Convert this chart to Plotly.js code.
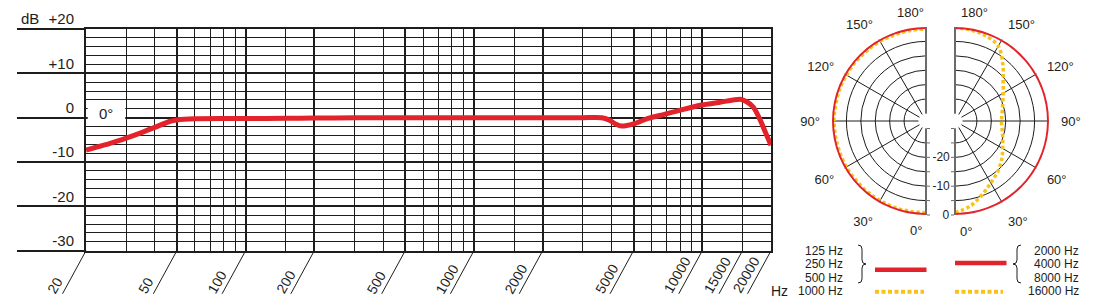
<!DOCTYPE html>
<html>
<head>
<meta charset="utf-8">
<script src="https://cdn.plot.ly/plotly-3.0.1.min.js"></script>
<style>
html,body{margin:0;padding:0;background:#fff;}
#chart{width:1105px;height:306px;}
</style>
</head>
<body>
<div id="chart"></div>
<script>
// ---------- DATA ----------
// Frequency response at 0°
const freqHz = [20, 25.5, 30, 35.7, 40, 46.7, 50, 60, 80, 100, 150, 200, 300, 500, 1000, 2000, 3000, 3630, 3900, 4170, 4440, 5000, 5800, 6820, 7890, 9780, 11970, 14690, 15660, 16760, 17930, 18870, 20000];
const responseDb = [-7.3, -5.8, -4.6, -3.2, -2.2, -0.8, -0.5, -0.25, -0.2, -0.2, -0.15, -0.1, 0, 0, 0, 0, 0, 0, -0.5, -1.4, -1.9, -1.4, -0.15, 0.75, 1.6, 2.8, 3.5, 4.15, 3.6, 2.35, -0.5, -3.2, -6.2];

// Axis ticks
const freqLabelVals = [20, 50, 100, 200, 500, 1000, 2000, 5000, 10000, 15000, 20000];
const freqLabelText = ['20', '50', '100', '200', '500', '1000', '2000', '5000', '10000', '15000', '20000'];
const freqMajorGrid = [20, 50, 100, 200, 500, 1000, 2000, 5000, 10000, 20000];
const freqMinorGrid = [30, 40, 60, 70, 80, 90, 150, 300, 400, 600, 700, 800, 900, 1500, 3000, 4000, 6000, 7000, 8000, 9000, 15000];
const dbTickVals = [-30, -20, -10, 0, 10, 20];
const dbTickText = ['-30', '-20', '-10', '0', '+10', '+20'];

// Polar patterns
const polarTheta = [0, 10, 20, 30, 40, 50, 60, 70, 80, 90, 100, 110, 120, 130, 140, 150, 160, 170, 180];
const lowMidDb = [0, 0, 0, 0, 0, 0, 0, 0, 0, 0, 0, 0, 0, 0, 0, 0, 0, 0, 0];           // 125/250/500 Hz
const f1000Db = [-0.8, -0.8, -0.7, -0.8, -0.7, -0.8, -0.7, -0.8, -0.8, -0.7, -0.8, -0.7, -0.8, -0.7, -0.8, -0.7, -0.8, -0.7, -0.7];
const highMidDb = [0, 0, 0, 0, 0, 0, 0, 0, 0, 0, 0, 0, 0, 0, 0, 0, 0, 0, 0];          // 2000/4000/8000 Hz
const f16000Db = [-0.8, -2.6, -5.3, -7.8, -9.6, -11.5, -13.5, -15.0, -16.0, -16.5, -16.0, -15.0, -13.3, -10.8, -6.8, -2.6, -1.2, -0.6, -0.3];
const polarRadialVals = [-30, -25, -20, -15, -10, -5, 0];
const polarRadialText = ['', '', '-20', '', '-10', '', '\u2007\u20080'];
const polarAngleVals = [0, 30, 60, 90, 120, 150, 180];
const polarAngleText = ['', '30°', '60°', '90°', '120°', '150°', ''];
const legendLeftText = ['125 Hz', '250 Hz', '500 Hz', '1000 Hz'];
const legendRightText = ['2000 Hz', '4000 Hz', '8000 Hz', '16000 Hz'];

// ---------- LAYOUT HELPERS ----------
const W = 1105, H = 306;
const px = x => x / W;
const py = y => 1 - y / H;
const RED = '#e3232b', YEL = '#f6c21c', INK = '#1d1d1b', GREY = '#6b6b6b';
const FONT = 'Liberation Sans, Arial, Helvetica, sans-serif';

const plotBox = {l: 86, r: 771, t: 29, b: 250.7};
const PL = {cx: 926, cy: 121, r: 94};
const PR = {cx: 955, cy: 121, r: 94};
const HOLE = 0.08;

const traces = [
  {type: 'scatter', x: freqHz, y: responseDb, xaxis: 'x', yaxis: 'y', mode: 'lines',
   line: {color: RED, width: 5, shape: 'spline', smoothing: 0.6}, hoverinfo: 'skip', cliponaxis: false},
  {type: 'scatter', x: [], y: [], xaxis: 'x2', yaxis: 'y', hoverinfo: 'skip', showlegend: false},
  {type: 'scatterpolar', subplot: 'polar', theta: polarTheta, r: f1000Db, mode: 'lines',
   line: {color: YEL, width: 3.5, dash: '3.5px,2.5px', shape: 'spline'}, cliponaxis: false, hoverinfo: 'skip'},
  {type: 'scatterpolar', subplot: 'polar', theta: polarTheta, r: lowMidDb, mode: 'lines',
   line: {color: RED, width: 4, shape: 'spline'}, cliponaxis: false, hoverinfo: 'skip'},
  {type: 'scatterpolar', subplot: 'polar2', theta: polarTheta, r: f16000Db, mode: 'lines',
   line: {color: YEL, width: 3.5, dash: '3.5px,2.5px', shape: 'spline'}, cliponaxis: false, hoverinfo: 'skip'},
  {type: 'scatterpolar', subplot: 'polar2', theta: polarTheta, r: highMidDb, mode: 'lines',
   line: {color: RED, width: 4, shape: 'spline'}, cliponaxis: false, hoverinfo: 'skip'}
];

function radialAxis(showLabels, side, tickangle) {
  return {
    range: [-30, 0], tickmode: 'array', tickvals: polarRadialVals, ticktext: polarRadialText,
    showticklabels: showLabels, angle: -90, side: side, tickangle: tickangle,
    showline: true, linecolor: GREY, linewidth: 2,
    gridcolor: INK, gridwidth: 1,
    ticks: 'outside', ticklen: 3, tickcolor: GREY, tickwidth: 1,
    tickfont: {size: 12, color: INK, family: FONT}
  };
}
function angularAxis(direction) {
  return {
    rotation: -90, direction: direction, tickmode: 'array', tickvals: polarAngleVals, ticktext: polarAngleText,
    showline: false, gridcolor: INK, gridwidth: 1, ticks: 'outside', ticklen: 9, tickcolor: 'rgba(0,0,0,0)',
    tickfont: {size: 13, color: INK, family: FONT}
  };
}

const shapes = [];
// white label box "0°"
shapes.push({type: 'rect', xref: 'x', yref: 'y', x0: 20.35, x1: 29.7, y0: -1.8, y1: 3.8,
  fillcolor: '#fff', line: {width: 0}, layer: 'above'});
// upper half of the vertical polar edge lines
[PL, PR].forEach(p => {
  shapes.push({type: 'line', xref: 'paper', yref: 'paper', x0: px(p.cx), x1: px(p.cx),
    y0: py(p.cy - p.r * HOLE), y1: py(p.cy - p.r), line: {color: GREY, width: 2}});
});
// legend swatches
shapes.push({type: 'line', xref: 'paper', yref: 'paper', x0: px(875), x1: px(926.5), y0: py(269.7), y1: py(269.7), line: {color: RED, width: 4.5}});
shapes.push({type: 'line', xref: 'paper', yref: 'paper', x0: px(875), x1: px(924), y0: py(291.7), y1: py(291.7), line: {color: YEL, width: 4, dash: '4px,2.5px'}});
shapes.push({type: 'line', xref: 'paper', yref: 'paper', x0: px(955), x1: px(1006.5), y0: py(263), y1: py(263), line: {color: RED, width: 4.5}});
shapes.push({type: 'line', xref: 'paper', yref: 'paper', x0: px(955), x1: px(1003), y0: py(291.7), y1: py(291.7), line: {color: YEL, width: 4, dash: '4px,2.5px'}});
// braces
const P = (x, y) => px(x) + ',' + py(y);
shapes.push({type: 'path', xref: 'paper', yref: 'paper', line: {color: INK, width: 1},
  path: 'M' + P(858, 245) + ' Q' + P(862, 245) + ' ' + P(862, 249) + ' L' + P(862, 260) + ' Q' + P(862, 264) + ' ' + P(866, 264) +
        ' Q' + P(862, 264) + ' ' + P(862, 268) + ' L' + P(862, 279) + ' Q' + P(862, 283) + ' ' + P(858, 283)});
shapes.push({type: 'path', xref: 'paper', yref: 'paper', line: {color: INK, width: 1},
  path: 'M' + P(1021, 245) + ' Q' + P(1017, 245) + ' ' + P(1017, 249) + ' L' + P(1017, 260) + ' Q' + P(1017, 264) + ' ' + P(1013, 264) +
        ' Q' + P(1017, 264) + ' ' + P(1017, 268) + ' L' + P(1017, 279) + ' Q' + P(1017, 283) + ' ' + P(1021, 283)});

const annotations = [];
const ann = (text, x, y, xanchor, size) => annotations.push({text: text, xref: 'paper', yref: 'paper', x: px(x), y: py(y),
  xanchor: xanchor || 'center', yanchor: 'middle', showarrow: false, font: {size: size || 12, color: INK, family: FONT}});
ann('dB', 19, 18.7, 'left', 15);
ann('Hz', 779, 290.5, 'center', 14);
annotations.push({text: '0°', xref: 'x', yref: 'y', x: Math.log10(24.5), y: 1, showarrow: false,
  font: {size: 15, color: INK, family: FONT}, xanchor: 'center', yanchor: 'middle'});
ann('180°', 910, 12.5, 'center', 13); ann('0°', 916, 230, 'center', 13);
ann('180°', 974, 13, 'center', 13); ann('0°', 966, 231.5, 'center', 13);
legendLeftText.forEach((t, i) => ann(t, 845.5, 251 + i * 13.3, 'right', 12));
legendRightText.forEach((t, i) => ann(t, 1080.5, 251 + i * 13.3, 'right', 12));
// slanted frequency labels, bottom-aligned along the strokes, plus the strokes themselves
freqLabelVals.forEach((f, i) => {
  annotations.push({text: freqLabelText[i], xref: 'x', yref: 'paper',
    x: Math.log10(f), y: py(297.5), xanchor: 'left', yanchor: 'bottom', xshift: -43, textangle: -60,
    showarrow: false, borderpad: 0, font: {size: 14, color: INK, family: FONT}});
  annotations.push({text: ' ', xref: 'x', yref: 'y', x: Math.log10(f), y: -30,
    showarrow: true, arrowhead: 0, arrowwidth: 1, arrowcolor: INK, ax: -24, ay: 44, standoff: 0,
    font: {size: 1}, borderpad: 0});
});

const layout = {
  width: W, height: H, margin: {l: 0, r: 0, t: 0, b: 0},
  paper_bgcolor: '#fff', plot_bgcolor: '#fff', showlegend: false,
  font: {family: FONT, color: INK},
  xaxis: {
    type: 'log', range: [Math.log10(20), Math.log10(20000)], domain: [px(plotBox.l), px(plotBox.r)], anchor: 'y',
    tickmode: 'array', tickvals: freqLabelVals, showticklabels: false, ticks: '', showgrid: false, zeroline: false,
    showline: true, mirror: true, linecolor: INK, linewidth: 2, automargin: false, fixedrange: true,
    minor: {tickmode: 'array', tickvals: freqMinorGrid, showgrid: true, gridcolor: INK, gridwidth: 1, ticks: ''}
  },
  xaxis2: {
    type: 'log', range: [Math.log10(20), Math.log10(20000)], overlaying: 'x', anchor: 'y',
    tickmode: 'array', tickvals: freqMajorGrid, showticklabels: false, ticks: '',
    showgrid: true, gridcolor: INK, gridwidth: 2, zeroline: false, showline: false, fixedrange: true
  },
  yaxis: {
    range: [-30, 20], domain: [py(plotBox.b), py(plotBox.t)], anchor: 'x',
    tickmode: 'array', tickvals: dbTickVals, ticktext: dbTickText,
    tickfont: {size: 15, color: INK, family: FONT},
    ticks: 'outside', ticklen: 67, tickwidth: 2, tickcolor: INK,
    ticklabelstandoff: -60, ticklabelshift: -10,
    showgrid: true, gridcolor: INK, gridwidth: 2, zeroline: false,
    showline: true, mirror: true, linecolor: INK, linewidth: 2, automargin: false, fixedrange: true,
    minor: {tickmode: 'linear', tick0: 0, dtick: 2, showgrid: true, gridcolor: INK, gridwidth: 1, ticks: ''}
  },
  polar: {
    domain: {x: [px(PL.cx - PL.r), px(PL.cx)], y: [py(PL.cy + PL.r), py(PL.cy - PL.r)]},
    sector: [-270, -90], hole: HOLE, bgcolor: '#fff',
    radialaxis: radialAxis(true, 'counterclockwise', -90),
    angularaxis: angularAxis('clockwise')
  },
  polar2: {
    domain: {x: [px(PR.cx), px(PR.cx + PR.r)], y: [py(PR.cy + PR.r), py(PR.cy - PR.r)]},
    sector: [-90, 90], hole: HOLE, bgcolor: '#fff',
    radialaxis: radialAxis(false, 'clockwise', 0),
    angularaxis: angularAxis('counterclockwise')
  },
  shapes: shapes,
  annotations: annotations
};

Plotly.newPlot('chart', traces, layout, {displayModeBar: false, staticPlot: true});
</script>
</body>
</html>
